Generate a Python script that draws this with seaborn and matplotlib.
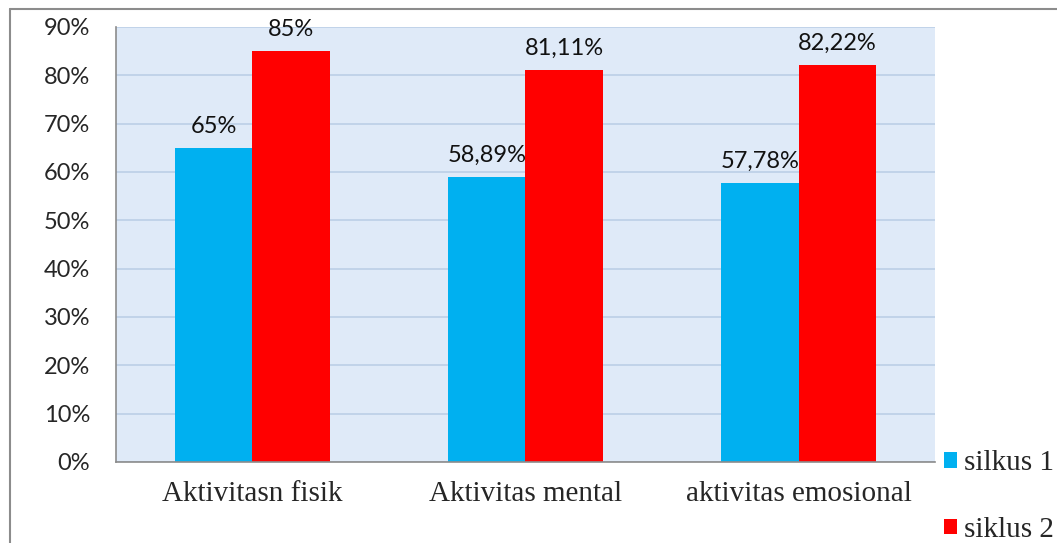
import matplotlib
matplotlib.use("Agg")
import matplotlib.pyplot as plt
import seaborn as sns
import pandas as pd
from matplotlib.lines import Line2D
from matplotlib.patches import Patch
from matplotlib.ticker import FuncFormatter, FixedLocator

categories = ["Aktivitasn fisik", "Aktivitas mental", "aktivitas emosional"]
series_names = ["silkus 1", "siklus 2"]
silkus_1 = [65.0, 58.89, 57.78]
siklus_2 = [85.0, 81.11, 82.22]
label_1 = ["65%", "58,89%", "57,78%"]
label_2 = ["85%", "81,11%", "82,22%"]
y_ticks = [0, 10, 20, 30, 40, 50, 60, 70, 80, 90]

df = pd.DataFrame({
    "kategori": categories * 2,
    "siklus": [series_names[0]] * 3 + [series_names[1]] * 3,
    "nilai": silkus_1 + siklus_2,
})

sns.set_style("white")
palette = {series_names[0]: "#00b0f0", series_names[1]: "#ff0000"}

fig = plt.figure(figsize=(10.57, 5.43), dpi=100)
ax = fig.add_axes([0.1097, 0.1492, 0.7749, 0.8011])

sns.barplot(data=df, x="kategori", y="nilai", hue="siklus", order=categories,
            hue_order=series_names, palette=palette, width=0.566, gap=0,
            saturation=1, edgecolor="none", linewidth=0, legend=False, ax=ax)

ax.set_facecolor("#dfeaf8")
ax.set_ylim(0, 90)
ax.set_xlim(-0.5, 2.5)
ax.yaxis.set_major_locator(FixedLocator(y_ticks))
ax.yaxis.set_major_formatter(FuncFormatter(lambda v, p: f"{int(v)}%"))
ax.grid(axis="y", color="#bccfe6", linewidth=1.2)
ax.set_axisbelow(True)

for s in ["top", "right"]:
    ax.spines[s].set_visible(False)
for s in ["left", "bottom"]:
    ax.spines[s].set_color("#8c8c8c")
    ax.spines[s].set_linewidth(1.2)

ax.tick_params(axis="y", length=6.5, color="#8c8c8c", width=1.2, pad=12,
               labelsize=17)
for t in ax.get_yticklabels():
    t.set_fontfamily("Lato")
ax.set_xticks(range(len(categories)))
ax.set_xticklabels(categories, fontfamily="Liberation Serif", fontsize=21)
ax.tick_params(axis="x", length=0, pad=14)
ax.set_xticks([-0.5, 0.5, 1.5, 2.5], minor=True)
ax.tick_params(axis="x", which="minor", length=6, color="#8c8c8c", width=1.2)
ax.set_xlabel("")
ax.set_ylabel("")

for container, labels in zip(ax.containers, [label_1, label_2]):
    ax.bar_label(container, labels=labels, padding=8, fontsize=17,
                 fontfamily="Lato", color="#111111")

handles = [Patch(facecolor=palette[n], edgecolor="none") for n in series_names]
fig.legend(handles, series_names, loc="lower left",
           bbox_to_anchor=(0.893, 0.0), frameon=False,
           prop={"family": "Liberation Serif", "size": 21},
           handlelength=0.45, handleheight=0.45, handletextpad=0.25,
           labelspacing=1.4, borderpad=0, borderaxespad=0)

# chart border (top and left edges visible)
fig.add_artist(Line2D([0.0095, 1.0], [0.983, 0.983], color="#8c8c8c",
                      linewidth=1.5, transform=fig.transFigure))
fig.add_artist(Line2D([0.0095, 0.0095], [0.0, 0.983], color="#8c8c8c",
                      linewidth=1.5, transform=fig.transFigure))

fig.savefig("out.png", dpi=100)
plt.close(fig)
